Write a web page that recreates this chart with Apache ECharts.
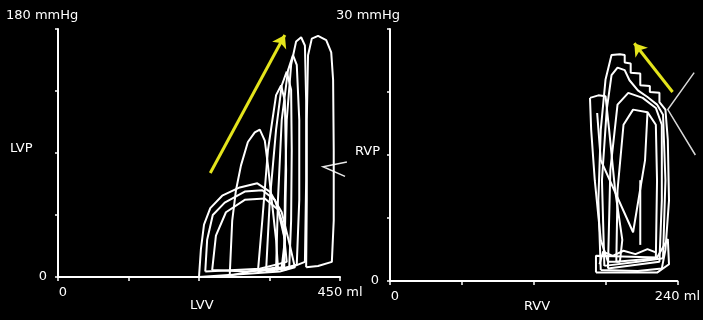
<!DOCTYPE html>
<html><head><meta charset="utf-8">
<script src="https://cdn.jsdelivr.net/npm/echarts@6/dist/echarts.min.js"></script>
<style>html,body{margin:0;padding:0;background:#000}#c{width:703px;height:320px}</style>
</head><body><div id="c"></div>
<script>
// ---- Left panel: LV pressure (mmHg) vs LV volume (ml) ----
const lvLoopA = [[225,0],[228,20],[233,38],[243,50],[262,59],[290,65],[318,68],[338,62],[357,47],[370,23],[378,7],[354,4],[290,2],[225,0]];
const lvLoopB = [[235,4],[238,27],[247,45],[266,54],[298,62],[326,63],[346,56],[359,38],[365,11],[322,6],[235,4]];
const lvLoopC = [[246,5],[252,30],[268,47],[298,56],[330,57],[351,49],[362,27],[359,6],[300,4],[246,5]];
const lvLoopD = [[274,1],[278,41],[284,63],[292,81],[303,98],[314,105],[322,107],[330,99],[335,81],[341,56],[348,27],[351,7],[306,4],[274,1]];
const lvLoopE = [[319,4],[326,41],[335,92],[348,132],[356,139],[362,128],[364,78],[362,27],[357,7],[319,4]];
const lvLoopF = [[332,4],[338,56],[348,107],[357,139],[365,149],[372,136],[373,92],[372,41],[369,7],[332,4]];
const lvLoopG = [[348,5],[351,56],[357,114],[367,150],[375,161],[381,154],[385,114],[385,56],[381,9],[348,5]];
const lvLoopH = [[361,5],[362,56],[365,114],[372,154],[380,171],[388,174],[394,168],[396,128],[396,70],[394,11],[361,5]];
const lvLoopI = [[396,7],[397,56],[397,114],[399,161],[405,173],[415,175],[428,172],[436,163],[439,143],[440,92],[440,41],[437,11],[415,8],[396,7]];
const lvPointer = [[461,83.5],[423,80],[458,73]];
const lvArrow = [[243,75.5],[362,175.6]];

// ---- Right panel: RV pressure (mmHg) vs RV volume (ml) ----
const rvLoopA = [[176,1.3],[174,9.6],[176,18],[180,24],[185,26.9],[192,27],[196,26.9],[196,26],[201,25.9],[201,24.8],[209,24.7],[209,23.3],[217,23.2],[217,22.5],[225,22.4],[225,21.3],[230,20.4],[232,16.8],[233,9.6],[230,3.7],[227,1.5],[207,1.2],[176,1.3]];
const rvLoopB = [[179,1.8],[177,12],[181,20.4],[185,24.5],[190,25.4],[196,25.1],[200,23.9],[207,22.7],[215,21.9],[223,21],[228,19.8],[230,12],[228,2.7],[207,2.3],[179,1.8]];
const rvLoopC = [[182,1.5],[184,13.2],[190,21],[199,22.4],[211,21.8],[222,20.6],[227,18.6],[227,9.6],[225,2.3],[182,1.5]];
const rvLoopD = [[167,21.8],[174,22.1],[180,22],[183,18],[188,10.8],[194,4.9],[192,2.3],[182,2.3],[176,4.9],[171,12],[168,18],[167,21.8]];
const rvLoopE = [[189,2.3],[190,10.8],[195,18.6],[203,20.4],[215,20.1],[222,18.6],[223,12],[222,2.7],[189,2.3]];
const rvLoopF = [[173,20],[176,14.4],[203,5.8],[213,14.4],[215,20]];
const rvLoopG = [[209,12],[209,4.3]];
const rvLoopH = [[172,1],[172,3],[223,2.8],[232,5],[233,2],[223,1],[172,1]];
const rvLoopI = [[175,2],[178,3.5],[186,3],[195,3.6],[205,3.2],[215,3.8],[222,3.4]];
const rvPointer = [[254,24.8],[232,20.4],[255,15]];
const rvArrow = [[236,22.5],[204,28.3]];

// ---- Axes ----
const lvXRange = [0, 450], lvYRange = [0, 180];
const rvXRange = [0, 240], rvYRange = [0, 30];
const lvXLabels = ['0', '450 ml'];
const rvXLabels = ['0', '240 ml'];
const yZeroLabel = '0';
const lvTitles = ['180 mmHg', 'LVP', 'LVV'];
const rvTitles = ['30 mmHg', 'RVP', 'RVV'];

const lvLoops = [lvLoopA, lvLoopB, lvLoopC, lvLoopD, lvLoopE, lvLoopF, lvLoopG, lvLoopH, lvLoopI];
const rvLoops = [rvLoopA, rvLoopB, rvLoopC, rvLoopD, rvLoopE, rvLoopF, rvLoopG, rvLoopH, rvLoopI];

const FONT = '"DejaVu Sans", sans-serif';
const WHITE = '#ffffff';
const YELLOW = '#e4e41c';

function loopSeries(data, gi, color, width) {
  return {type:'line', xAxisIndex:gi, yAxisIndex:gi, data:data, symbol:'none', clip:false,
    smooth:false, silent:true, animation:false,
    lineStyle:{color:color || WHITE, width:width || 2}};
}
function arrowSeries(pts, gi) {
  return {type:'line', xAxisIndex:gi, yAxisIndex:gi, data:[], silent:true, animation:false,
    markLine:{silent:true, animation:false, symbol:['none','arrow'], symbolSize:12,
      label:{show:false}, emphasis:{disabled:true},
      lineStyle:{color:YELLOW, width:3, type:'solid'},
      data:[[{coord:pts[0]},{coord:pts[1]}]]}};
}
function xAxis(gi, range, labels, interval) {
  return {gridIndex:gi, type:'value', min:range[0], max:range[1], interval:interval,
    axisLine:{show:true, onZero:false, lineStyle:{color:WHITE, width:2}},
    axisTick:{show:true, length:4, lineStyle:{color:WHITE, width:1.5}},
    splitLine:{show:false},
    axisLabel:{show:true, showMinLabel:true, showMaxLabel:true, color:WHITE, fontSize:13, fontFamily:FONT, margin:9,
      rich:{z:{color:WHITE, fontSize:13, fontFamily:FONT, padding:[0,0,0,10]}},
      formatter:function(v){ return v === range[0] ? '{z|' + labels[0] + '}' : (v === range[1] ? labels[1] : ''); }}};
}
function yAxis(gi, range, interval) {
  return {gridIndex:gi, type:'value', min:range[0], max:range[1], interval:interval,
    axisLine:{show:true, onZero:false, lineStyle:{color:WHITE, width:2}},
    axisTick:{show:true, length:3, lineStyle:{color:WHITE, width:1.5}},
    splitLine:{show:false},
    axisLabel:{show:true, showMinLabel:true, color:WHITE, fontSize:13, fontFamily:FONT, margin:11,
      formatter:function(v){ return v === range[0] ? yZeroLabel : ''; }}};
}
function txt(s, left, top) {
  return {type:'text', left:left, top:top, silent:true,
    style:{text:s, fill:WHITE, font:'13px ' + FONT}};
}

const series = [];
lvLoops.forEach(function(d){ series.push(loopSeries(d, 0)); });
rvLoops.forEach(function(d){ series.push(loopSeries(d, 1)); });
series.push(arrowSeries(lvArrow, 0));
series.push(arrowSeries(rvArrow, 1));

const chart = echarts.init(document.getElementById('c'), null, {renderer:'canvas'});
chart.setOption({
  backgroundColor:'#000',
  animation:false,
  grid:[
    {left:58, top:29, width:282, height:248},
    {left:390, top:29, width:290, height:252}
  ],
  xAxis:[xAxis(0, lvXRange, lvXLabels, 112.5), xAxis(1, rvXRange, rvXLabels, 60)],
  yAxis:[yAxis(0, lvYRange, 45), yAxis(1, rvYRange, 7.5)],
  series:series
});

// pointer marks extend past the axis end: place them through the axes' own scales
function pointerGraphic(pts, gi, color) {
  const px = pts.map(function(p){ return chart.convertToPixel({gridIndex:gi}, p); });
  return {type:'polyline', silent:true, shape:{points:px},
    style:{stroke:color, lineWidth:1.5, fill:null}};
}
chart.setOption({
  graphic:[
    txt(lvTitles[0], 6, 9), txt(lvTitles[1], 10, 142), txt(lvTitles[2], 190, 299),
    txt(rvTitles[0], 336, 9), txt(rvTitles[1], 355, 145), txt(rvTitles[2], 524, 300),
    pointerGraphic(lvPointer, 0, '#e8e8e8'),
    pointerGraphic(rvPointer, 1, '#d8d8d8')
  ]
});
</script>
</body></html>
